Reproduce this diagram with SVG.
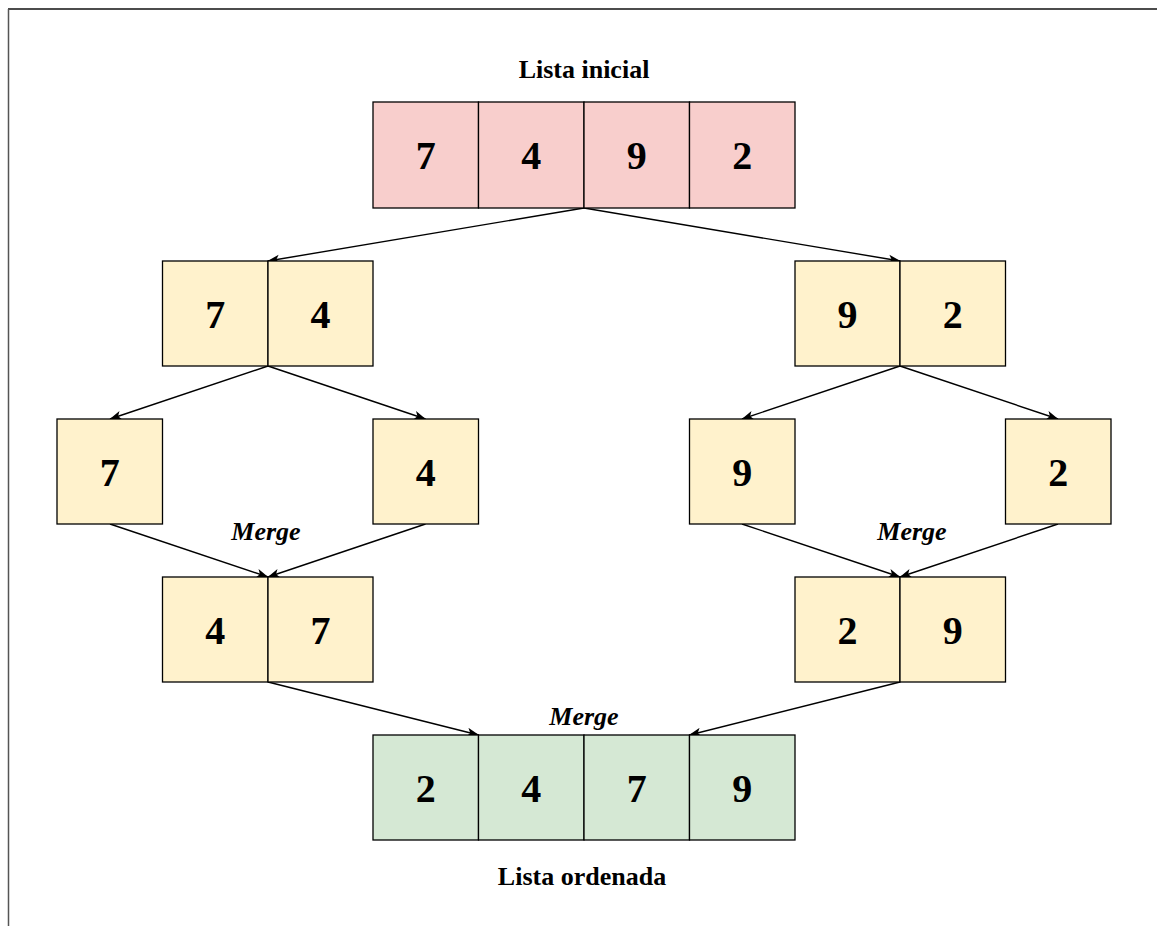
<svg xmlns="http://www.w3.org/2000/svg" width="1157" height="926" viewBox="0 0 1157 926">
<defs>
<style>
.c{stroke:#000;stroke-width:1.3}
.p{fill:#f8cecc}.y{fill:#fff2cc}.g{fill:#d5e8d4}
.n{font-family:"Liberation Serif",serif;font-weight:bold;font-size:40px;text-anchor:middle;fill:#000}
.t{font-family:"Liberation Serif",serif;font-weight:bold;font-size:26px;text-anchor:middle;fill:#000}
.m{font-family:"Liberation Serif",serif;font-weight:bold;font-style:italic;font-size:26px;text-anchor:middle;fill:#000}
.e{fill:none;stroke:#000;stroke-width:1.4;marker-end:url(#a)}
</style>
<marker id="a" viewBox="0 0 12 10" refX="11.5" refY="5" markerWidth="12" markerHeight="10" markerUnits="userSpaceOnUse" orient="auto">
<path d="M0,0.5 L12,5 L0,9.5 L3,5 Z" fill="#000"/>
</marker>
</defs>
<rect width="1157" height="926" fill="#fff"/>
<line x1="8" y1="9" x2="1157" y2="9" stroke="#111" stroke-width="1.5"/>
<line x1="8.5" y1="9" x2="8.5" y2="926" stroke="#555" stroke-width="1.5"/>

<g id="connectors">
<line class="e" x1="584" y1="208" x2="268" y2="261"/>
<line class="e" x1="584" y1="208" x2="900" y2="261"/>
<line class="e" x1="268" y1="366" x2="110" y2="419"/>
<line class="e" x1="268" y1="366" x2="425.5" y2="419"/>
<line class="e" x1="900" y1="366" x2="742" y2="419"/>
<line class="e" x1="900" y1="366" x2="1058" y2="419"/>
<line class="e" x1="110" y1="524" x2="268" y2="577"/>
<line class="e" x1="425.5" y1="524" x2="268" y2="577"/>
<line class="e" x1="742" y1="524" x2="900" y2="577"/>
<line class="e" x1="1058" y1="524" x2="900" y2="577"/>
<line class="e" x1="268" y1="682" x2="478.5" y2="735"/>
<line class="e" x1="900" y1="682" x2="689.5" y2="735"/>
</g>

<g id="label-inicial"><text class="t" x="584" y="78">Lista inicial</text></g>
<g id="list-initial">
<rect class="c p" x="373" y="102" width="105.5" height="106"/>
<rect class="c p" x="478.5" y="102" width="105.5" height="106"/>
<rect class="c p" x="584" y="102" width="105.5" height="106"/>
<rect class="c p" x="689.5" y="102" width="105.5" height="106"/>
<text class="n" x="425.75" y="169">7</text>
<text class="n" x="531.25" y="169">4</text>
<text class="n" x="636.75" y="169">9</text>
<text class="n" x="742.25" y="169">2</text>
</g>

<g id="left-74">
<rect class="c y" x="162.5" y="261" width="105.5" height="105"/>
<rect class="c y" x="268" y="261" width="105" height="105"/>
<text class="n" x="215.25" y="328">7</text>
<text class="n" x="320.5" y="328">4</text>
</g>
<g id="right-92">
<rect class="c y" x="795" y="261" width="105" height="105"/>
<rect class="c y" x="900" y="261" width="105.5" height="105"/>
<text class="n" x="847.5" y="328">9</text>
<text class="n" x="952.75" y="328">2</text>
</g>

<g id="single-7">
<rect class="c y" x="57" y="419" width="105.5" height="105"/>
<text class="n" x="109.75" y="486">7</text>
</g>
<g id="single-4">
<rect class="c y" x="373" y="419" width="105.5" height="105"/>
<text class="n" x="425.75" y="486">4</text>
</g>
<g id="single-9">
<rect class="c y" x="689.5" y="419" width="105.5" height="105"/>
<text class="n" x="742.25" y="486">9</text>
</g>
<g id="single-2">
<rect class="c y" x="1005.5" y="419" width="105.5" height="105"/>
<text class="n" x="1058.25" y="486">2</text>
</g>

<g id="merge-left-label"><text class="m" x="266" y="540">Merge</text></g>
<g id="merge-right-label"><text class="m" x="912" y="540">Merge</text></g>

<g id="left-47">
<rect class="c y" x="162.5" y="577" width="105.5" height="105"/>
<rect class="c y" x="268" y="577" width="105" height="105"/>
<text class="n" x="215.25" y="644">4</text>
<text class="n" x="320.5" y="644">7</text>
</g>
<g id="right-29">
<rect class="c y" x="795" y="577" width="105" height="105"/>
<rect class="c y" x="900" y="577" width="105.5" height="105"/>
<text class="n" x="847.5" y="644">2</text>
<text class="n" x="952.75" y="644">9</text>
</g>

<g id="merge-bottom-label"><text class="m" x="584" y="725">Merge</text></g>

<g id="list-sorted">
<rect class="c g" x="373" y="735" width="105.5" height="105"/>
<rect class="c g" x="478.5" y="735" width="105.5" height="105"/>
<rect class="c g" x="584" y="735" width="105.5" height="105"/>
<rect class="c g" x="689.5" y="735" width="105.5" height="105"/>
<text class="n" x="425.75" y="802">2</text>
<text class="n" x="531.25" y="802">4</text>
<text class="n" x="636.75" y="802">7</text>
<text class="n" x="742.25" y="802">9</text>
</g>
<g id="label-ordenada"><text class="t" x="582" y="885">Lista ordenada</text></g>
</svg>
